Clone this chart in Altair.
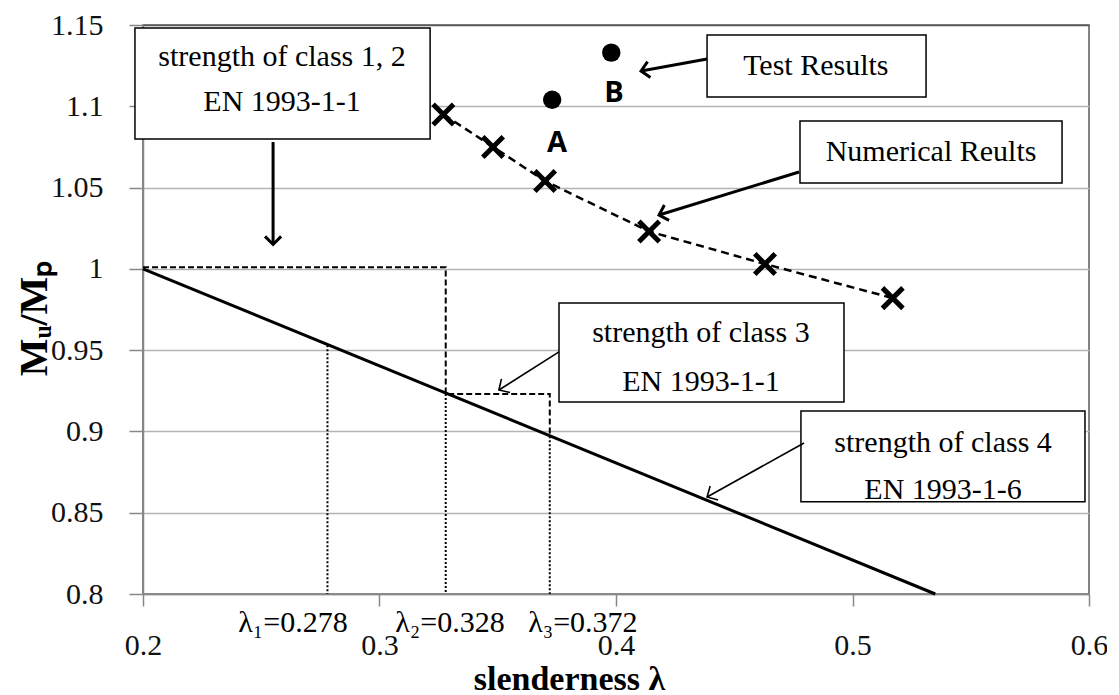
import math
import altair as alt
import pandas as pd

# ---------------- data ----------------
W, H = 946, 569
X_DOMAIN = [0.2, 0.6]
Y_DOMAIN = [0.8, 1.15]
x_ticks = [0.2, 0.3, 0.4, 0.5, 0.6]
y_ticks = [0.8, 0.85, 0.9, 0.95, 1.0, 1.05, 1.1, 1.15]

# numerical results (crosses, dashed)
num_x = [0.327, 0.348, 0.370, 0.414, 0.463, 0.517]
num_y = [1.095, 1.075, 1.054, 1.023, 1.003, 0.982]

# test results (dots)
test_x = [0.373, 0.398]
test_y = [1.104, 1.133]
test_lbl = ["A", "B"]
test_lbl_y = [1.0774, 1.1082]
test_lbl_x = [0.375, 0.3992]

# class 4 strength line (EN 1993-1-6)
c4_x = [0.2, 0.535]
c4_y = [1.0, 0.8]

# class 1,2 / class 3 step (EN 1993-1-1)
step_x = [0.2, 0.328, 0.328, 0.372, 0.372]
step_y = [1.001, 1.001, 0.923, 0.923, 0.897]

# lambda limits (dotted)
lam_x = [0.278, 0.328, 0.372]
lam_top = [0.953, 0.923, 0.897]
lam_txt = ["λ₁=0.278", "λ₂=0.328", "λ₃=0.372"]
lam_txt_x = [0.2634, 0.3298, 0.386]
lam_txt_y = 0.7767

# annotation boxes
box_x1 = [0.1966, 0.4385, 0.4778, 0.3759, 0.4782]
box_x2 = [0.3214, 0.5311, 0.5886, 0.4964, 0.5983]
box_y1 = [1.0799, 1.1057, 1.0528, 0.9181, 0.8567]
box_y2 = [1.1482, 1.1438, 1.0910, 0.9790, 0.9126]

lbl_text = ["strength of class 1, 2", "EN 1993-1-1", "Test Results", "Numerical Reults",
            "strength of class 3", "EN 1993-1-1", "strength of class 4", "EN 1993-1-6"]
lbl_x = [0.2588, 0.2588, 0.4845, 0.5332, 0.4359, 0.4359, 0.5383, 0.5383]
lbl_y = [1.1303, 1.1026, 1.1248, 1.0719, 0.9606, 0.9304, 0.8929, 0.8640]

# arrows (start -> tip)
arr_x1 = [0.255, 0.4385, 0.4774, 0.3759, 0.4795]
arr_y1 = [1.078, 1.1291, 1.0596, 0.9489, 0.8929]
arr_x2 = [0.255, 0.4106, 0.4182, 0.3505, 0.4385]
arr_y2 = [1.015, 1.1217, 1.0331, 0.9255, 0.8597]

# ---------------- frames ----------------
px_x = W / (X_DOMAIN[1] - X_DOMAIN[0])
px_y = H / (Y_DOMAIN[1] - Y_DOMAIN[0])

num_df = pd.DataFrame({"x": num_x, "y": num_y})
test_df = pd.DataFrame({"x": test_x, "y": test_y})
test_lbl_df = pd.DataFrame({"x": test_lbl_x, "y": test_lbl_y, "t": test_lbl})
c4_df = pd.DataFrame({"x": c4_x, "y": c4_y})
step_df = pd.DataFrame({"x": step_x, "y": step_y, "o": list(range(len(step_x)))})
lam_df = pd.DataFrame({"x": lam_x, "y": lam_top, "y2": [Y_DOMAIN[0]] * 3})
lam_txt_df = pd.DataFrame({"x": lam_txt_x, "y": [lam_txt_y] * 3, "t": lam_txt})
box_df = pd.DataFrame({"x": box_x1, "x2": box_x2, "y": box_y1, "y2": box_y2})
lbl_df = pd.DataFrame({"x": lbl_x, "y": lbl_y, "t": lbl_text})
angles = []
for a, b, c, d in zip(arr_x1, arr_y1, arr_x2, arr_y2):
    dx = (c - a) * px_x
    dy = -(d - b) * px_y
    angles.append(math.degrees(math.atan2(dy, dx)) % 360)
arr_df = pd.DataFrame({"x": arr_x1, "y": arr_y1, "x2": arr_x2, "y2": arr_y2, "ang": angles})

# ---------------- encodings ----------------
xs = alt.Scale(domain=X_DOMAIN, nice=False, zero=False)
ys = alt.Scale(domain=Y_DOMAIN, nice=False, zero=False)

SERIF = "Liberation Serif"

x_axis = alt.Axis(
    values=x_ticks, format="~g", grid=False, title="slenderness λ",
    titleFont=SERIF, titleFontSize=34, titleFontWeight="bold",
    titleX=426, titleY=95, titleBaseline="alphabetic", titleAlign="center",
    labelBaseline="alphabetic", labelPadding=48, tickSize=12,
    labelFlush=False, labelOverlap=False,
    domainColor="#888888", domainWidth=1.5, tickColor="#888888", tickWidth=1.5,
    labelFont=SERIF, labelFontSize=30, labelColor="#111111", titleColor="#000000",
)
y_axis = alt.Axis(
    values=y_ticks, format=".3~g", grid=True,
    gridColor={"condition": {"test": "datum.value >= 1.149", "value": "#5a5a5a"}, "value": "#b4b4b4"},
    gridWidth=1.5, tickSize=14, labelPadding=26,
    title="Mᵤ/Mₚ", titleFont=SERIF, titleFontSize=40, titleFontWeight="bold",
    titleX=-89, titleY=293, titleBaseline="bottom",
    labelFlush=False, labelOverlap=False,
    domainColor="#888888", domainWidth=1.5, tickColor="#888888", tickWidth=1.5,
    labelFont=SERIF, labelFontSize=30, labelColor="#111111", titleColor="#000000",
)

def X(f="x"):
    return alt.X(f, type="quantitative", scale=xs, axis=x_axis)

def Y(f="y"):
    return alt.Y(f, type="quantitative", scale=ys, axis=y_axis)

base = alt.Chart(c4_df).mark_line(color="black", strokeWidth=3).encode(x=X(), y=Y())

step = alt.Chart(step_df).mark_line(color="black", strokeWidth=2, strokeDash=[6, 3]).encode(
    x=X(), y=Y(), order="o:Q"
)

lam = alt.Chart(lam_df).mark_rule(color="black", strokeWidth=2, strokeDash=[2, 2]).encode(
    x=X(), y=Y(), y2="y2"
)

num_line = alt.Chart(num_df).mark_line(color="black", strokeWidth=2.5, strokeDash=[8, 5]).encode(
    x=X(), y=Y()
)
num_pts = alt.Chart(num_df).mark_point(
    shape="M-1,-1L1,1M-1,1L1,-1", filled=False, color="black", strokeWidth=5, size=420, opacity=1
).encode(x=X(), y=Y())

test_pts = alt.Chart(test_df).mark_point(
    shape="circle", filled=True, color="black", size=340, opacity=1
).encode(x=X(), y=Y())

test_txt = alt.Chart(test_lbl_df).mark_text(
    font="Open Sans", fontWeight="bold", fontSize=29, color="black", baseline="middle"
).encode(x=X(), y=Y(), text="t:N")

boxes = alt.Chart(box_df).mark_rect(fill="white", stroke="black", strokeWidth=1.5).encode(
    x=X(), x2="x2", y=Y(), y2="y2"
)

labels = alt.Chart(lbl_df).mark_text(
    font=SERIF, fontSize=30, color="black", baseline="middle", align="center"
).encode(x=X(), y=Y(), text="t:N")

arr_thick = alt.Chart(arr_df.iloc[:3]).mark_rule(color="black", strokeWidth=3).encode(
    x=X(), y=Y(), x2="x2", y2="y2"
)
arr_thin = alt.Chart(arr_df.iloc[3:]).mark_rule(color="black", strokeWidth=1.6).encode(
    x=X(), y=Y(), x2="x2", y2="y2"
)
head_thick = alt.Chart(arr_df.iloc[:3]).mark_point(
    shape="M-1,-1L0,0L-1,1", filled=False, color="black", strokeWidth=3, size=260, opacity=1
).encode(x=X("x2"), y=Y("y2"), angle=alt.Angle("ang:Q", scale=None))
head_thin = alt.Chart(arr_df.iloc[3:]).mark_point(
    shape="M-1,-1L0,0L-1,1", filled=False, color="black", strokeWidth=1.6, size=260, opacity=1
).encode(x=X("x2"), y=Y("y2"), angle=alt.Angle("ang:Q", scale=None))

lam_labels = alt.Chart(lam_txt_df).mark_text(
    font=SERIF, fontSize=30, color="black", baseline="alphabetic", align="center"
).encode(x=X(), y=Y(), text="t:N")

chart = alt.layer(
    base, step, lam, num_line, num_pts, test_pts, test_txt,
    boxes, labels, arr_thick, arr_thin, head_thick, head_thin, lam_labels
).properties(
    width=W, height=H, autosize="none",
    padding={"left": 135, "top": 17, "right": 18, "bottom": 106},
    background="white",
).configure_view(
    stroke="#5a5a5a", strokeWidth=1.5
).configure_axis(
    labelFont=SERIF, labelFontSize=30, labelColor="#111111",
    titleFont=SERIF, titleColor="#000000",
)

chart.save("out.html", embed_options={"renderer": "svg", "actions": False})
